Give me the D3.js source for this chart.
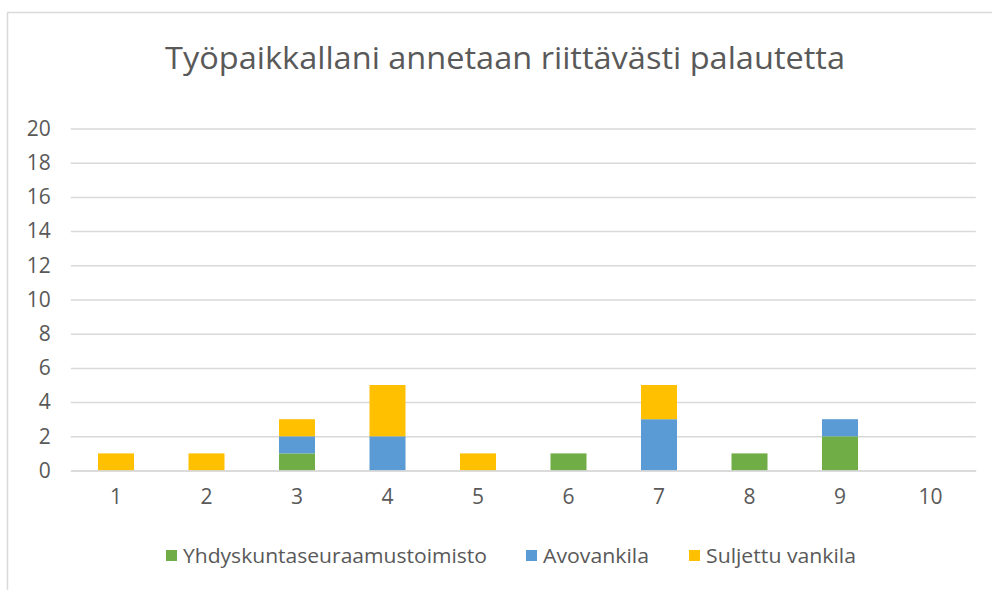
<!DOCTYPE html>
<html><head><meta charset="utf-8">
<script src="https://cdn.jsdelivr.net/npm/d3@7"></script>
<style>body{margin:0;background:#fff}svg{display:block}</style>
</head><body>
<svg id="c" width="992" height="590"></svg>
<script>
const title = "Työpaikkallani annetaan riittävästi palautetta";
const categories = ["1","2","3","4","5","6","7","8","9","10"];
const seriesNames = ["Yhdyskuntaseuraamustoimisto","Avovankila","Suljettu vankila"];
const yhdyskunta = [0,0,1,0,0,1,0,1,2,0];
const avovankila = [0,0,1,2,0,0,3,0,1,0];
const suljettu   = [1,1,1,3,1,0,2,0,0,0];
const yTicks = [0,2,4,6,8,10,12,14,16,18,20];
const colors = ["#70ad47","#5b9bd5","#ffc000"];

const svg = d3.select("#c");
const font = "'Open Sans', Lato, sans-serif";
const textCol = "#595959";

// frame
svg.append("rect").attr("x",7.5).attr("y",12.5).attr("width",1000).attr("height",600)
  .attr("fill","none").attr("stroke","#d9d9d9").attr("stroke-width",1.5);

const m = {left:70.75, right:975.75, top:128.5, bottom:470.5};
const x = d3.scaleBand().domain(categories).range([m.left,m.right]).paddingInner(0.6).paddingOuter(0.3);
const y = d3.scaleLinear().domain([0,20]).range([m.bottom,m.top]);

// grid
const yAxis = d3.axisLeft(y).tickValues(yTicks).tickSize(-(m.right-m.left)).tickPadding(20);
const gy = svg.append("g").attr("transform",`translate(${m.left},0)`).call(yAxis);
gy.select(".domain").remove();
gy.selectAll("line").attr("stroke","#d9d9d9").attr("stroke-width",1.5);
gy.selectAll("text").attr("fill",textCol).style("font-family",font).style("font-size","21px");

// bars
const rows = categories.map((c,i)=>({cat:c,[seriesNames[0]]:yhdyskunta[i],[seriesNames[1]]:avovankila[i],[seriesNames[2]]:suljettu[i]}));
const stacked = d3.stack().keys(seriesNames)(rows);
const bw = 36;
svg.append("g").selectAll("g").data(stacked).join("g").attr("fill",(d,i)=>colors[i])
  .selectAll("rect").data(d=>d).join("rect")
  .attr("x",d=>x(d.data.cat)+x.bandwidth()/2-bw/2)
  .attr("width",bw)
  .attr("y",d=>y(d[1]))
  .attr("height",d=>y(d[0])-y(d[1]));

// x axis
const xAxis = d3.axisBottom(x).tickSize(0).tickPadding(19);
const gx = svg.append("g").attr("transform",`translate(0,${m.bottom})`).call(xAxis);
gx.select(".domain").attr("stroke","#d9d9d9").attr("stroke-width",1.5);
gx.selectAll("text").attr("fill",textCol).style("font-family",font).style("font-size","21px");

// title
svg.append("text").attr("x",505).attr("y",69).attr("text-anchor","middle")
  .attr("fill",textCol).style("font-family",font).style("font-size","31px")
  .attr("textLength",680).attr("lengthAdjust","spacingAndGlyphs").text(title);

// legend
const legX = [166,526,689];
const legW = [304,106,150];
const lg = svg.append("g").selectAll("g").data(seriesNames).join("g")
  .attr("transform",(d,i)=>`translate(${legX[i]},0)`);
lg.append("rect").attr("x",0).attr("y",550).attr("width",11).attr("height",11).attr("fill",(d,i)=>colors[i]);
lg.append("text").attr("x",17).attr("y",563).attr("fill",textCol)
  .style("font-family",font).style("font-size","20px")
  .attr("textLength",(d,i)=>legW[i]).attr("lengthAdjust","spacingAndGlyphs").text(d=>d);
</script>
</body></html>
